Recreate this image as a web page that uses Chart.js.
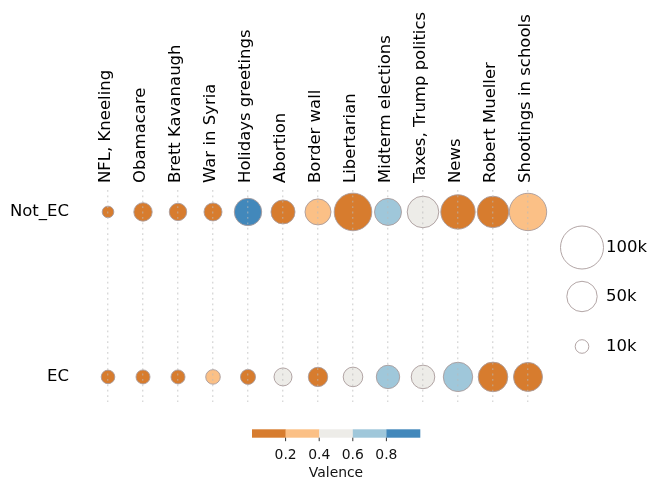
<!DOCTYPE html>
<html>
<head>
<meta charset="utf-8">
<script src="https://cdn.jsdelivr.net/npm/chart.js@4"></script>
<style>
html,body{margin:0;padding:0;background:#fff;}
#wrap{width:656px;height:491px;}
</style>
</head>
<body>
<div id="wrap"><canvas id="c" width="656" height="491"></canvas></div>
<script>
const categories = ["NFL, Kneeling","Obamacare","Brett Kavanaugh","War in Syria","Holidays greetings","Abortion","Border wall","Libertarian","Midterm elections","Taxes, Trump politics","News","Robert Mueller","Shootings in schools"];
const groups = ["Not_EC","EC"];
const groupY = [1, 0];
const notEcCount = [7300,18300,16400,17500,40600,31200,36600,76500,39400,54000,64000,54000,75600];
const ecCount    = [10000,10600,10600,11500,12200,17500,20400,20800,29600,30100,46700,47400,45500];
const notEcValence = [0.1,0.1,0.1,0.1,0.9,0.1,0.3,0.1,0.7,0.5,0.1,0.1,0.3];
const ecValence    = [0.1,0.1,0.1,0.3,0.1,0.5,0.1,0.5,0.7,0.5,0.7,0.1,0.1];
const legendSizes = [100000, 50000, 10000];
const legendLabels = ["100k","50k","10k"];
const colorbarTicks = [0.2, 0.4, 0.6, 0.8];
const binColors = ["rgb(215,124,46)","rgb(251,192,134)","rgb(237,236,232)","rgb(159,199,218)","rgb(66,136,187)"];

const MAXV = 100000, MAXR = 21.5;
function sizeToRadius(v){ return MAXR*Math.sqrt(v/MAXV); }
function valenceColor(val){ return binColors[Math.min(4, Math.floor(val*5))]; }

function buildData(counts, val, y){
  return categories.map((c,i)=>({x:c, y:y, r:sizeToRadius(counts[i]), val:val[i]}));
}
const FONT = "'DejaVu Sans', sans-serif";
const edge = "rgba(170,155,155,0.9)";

const extras = {
  id:'extras',
  afterDraw(chart){
    const ctx = chart.ctx;
    ctx.save();
    // size legend
    const lx = 582, lys = [247.5, 296.5, 346.5];
    legendSizes.forEach((s,i)=>{
      ctx.beginPath();
      ctx.arc(lx, lys[i], sizeToRadius(s), 0, Math.PI*2);
      ctx.strokeStyle = edge; ctx.lineWidth = 1; ctx.stroke();
      ctx.fillStyle = '#000'; ctx.font = "16.5px " + FONT;
      ctx.textAlign='left'; ctx.textBaseline='middle';
      ctx.fillText(legendLabels[i], 606, lys[i]);
    });
    // colorbar
    const x0 = 252, x1 = 420, y0 = 429.3, h = 8.4, w = (x1-x0)/binColors.length;
    binColors.forEach((c,i)=>{ ctx.fillStyle=c; ctx.fillRect(x0+i*w, y0, w+0.3, h); });
    ctx.strokeStyle='#000'; ctx.lineWidth=0.8; ctx.fillStyle='#111';
    ctx.font = "13.9px " + FONT; ctx.textAlign='center'; ctx.textBaseline='middle';
    colorbarTicks.forEach(t=>{
      const x = x0 + t*(x1-x0);
      ctx.beginPath(); ctx.moveTo(x, y0+h); ctx.lineTo(x, y0+h+3.5); ctx.stroke();
      ctx.fillText(t.toFixed(1), x, 455);
    });
    ctx.fillText("Valence", 336, 473.5);
    ctx.restore();
  }
};

new Chart(document.getElementById('c'), {
  type:'bubble',
  data:{
    labels: categories,
    datasets:[
      {label:groups[0], data:buildData(notEcCount, notEcValence, groupY[0])},
      {label:groups[1], data:buildData(ecCount, ecValence, groupY[1])}
    ]
  },
  options:{
    responsive:false, animation:false,
    layout:{padding:{left:0, right:110.5, top:0, bottom:89}},
    elements:{point:{
      backgroundColor: ctx => valenceColor(ctx.raw ? ctx.raw.val : 0),
      borderColor: edge, borderWidth: 1
    }},
    plugins:{legend:{display:false}, tooltip:{enabled:false}},
    scales:{
      x:{
        type:'category', position:'top', offset:true,
        border:{display:false, dash:[1.8,3.6]},
        grid:{display:true, drawTicks:false, z:1, color:'rgba(185,185,185,0.55)', lineWidth:1.4},
        ticks:{maxRotation:90, minRotation:90, padding:7, labelOffset:18, color:'#000', font:{family:FONT, size:16.5}},
        afterFit(s){ s.height = 190; }
      },
      y:{
        type:'linear', min:-0.152, max:1.133,
        border:{display:false},
        grid:{display:false, drawTicks:false},
        afterBuildTicks(s){ s.ticks = groupY.map(v=>({value:v})); },
        ticks:{padding:21.5, color:'#000', font:{family:FONT, size:16.5},
          callback:(v)=>{ const i = groupY.indexOf(v); return i>=0 ? groups[i] : ''; }},
        afterFit(s){ s.width = 90.5; }
      }
    }
  },
  plugins:[extras]
});
</script>
</body>
</html>
